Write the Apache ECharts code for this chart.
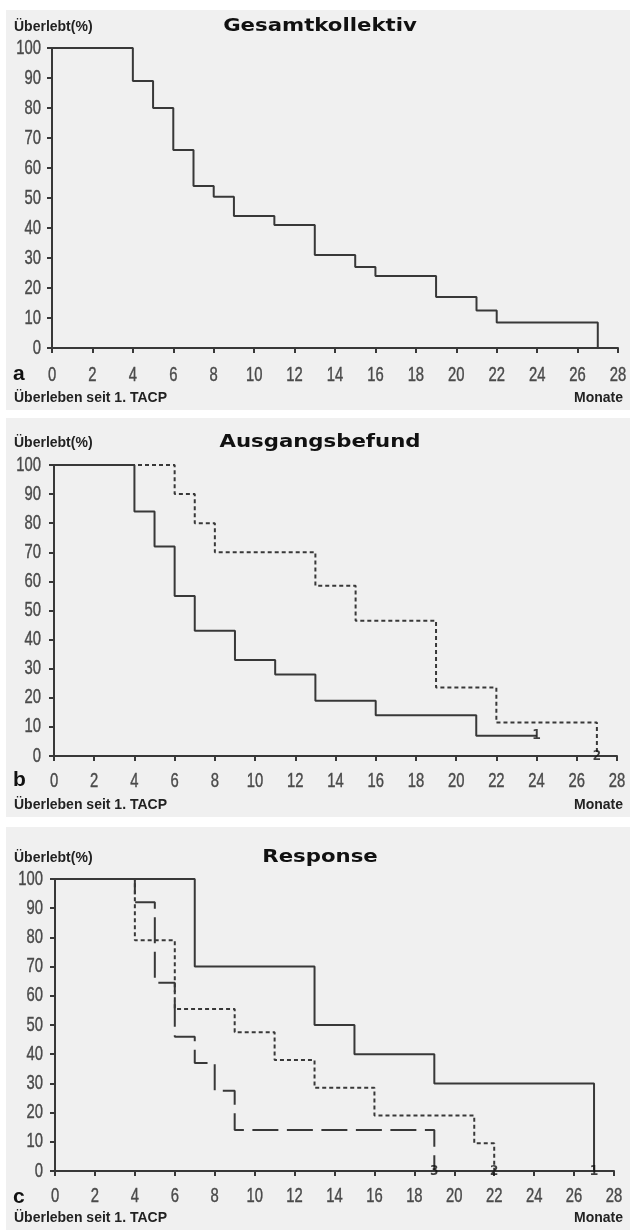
<!DOCTYPE html>
<html>
<head>
<meta charset="utf-8">
<script src="https://cdn.jsdelivr.net/npm/echarts@6/dist/echarts.min.js"></script>
<style>html,body{margin:0;padding:0;background:#fff}#c{width:630px;height:1230px}</style>
</head>
<body>
<div id="c"></div>
<script>
// ---- data ----
const titles = ['Gesamtkollektiv', 'Ausgangsbefund', 'Response'];
const panelLetters = ['a', 'b', 'c'];
const yAxisTitle = 'Überlebt(%)';
const xAxisTitle = 'Überleben seit 1. TACP';
const xUnit = 'Monate';
const xTicks = [0, 2, 4, 6, 8, 10, 12, 14, 16, 18, 20, 22, 24, 26, 28];
const yTicks = [0, 10, 20, 30, 40, 50, 60, 70, 80, 90, 100];

// panel a
const aTimes = [0, 4, 5, 6, 7, 8, 9, 11, 13, 15, 16, 19, 21, 22, 27];
const aValues = [100, 89, 80, 66, 54, 50.4, 44, 41, 31, 27, 24, 17, 12.5, 8.5, 0];

// panel b
const b1Times = [0, 4, 5, 6, 7, 9, 11, 13, 16, 21, 24];
const b1Values = [100, 84, 72, 55, 43, 33, 28, 19, 14, 7, 7];
const b2Times = [0, 6, 7, 8, 13, 15, 19, 22, 27];
const b2Values = [100, 90, 80, 70, 58.5, 46.5, 23.5, 11.5, 0];
const bEndLabels = [[24, 7, '1'], [27, 0, '2']];

// panel c
const c1Times = [0, 7, 13, 15, 19, 27];
const c1Values = [100, 70, 50, 40, 30, 0];
const c2Times = [0, 4, 6, 9, 11, 13, 16, 21, 22];
const c2Values = [100, 79, 55.5, 47.5, 38, 28.5, 19, 9.5, 0];
const c3Times = [0, 4, 5, 6, 7, 8, 9, 19];
const c3Values = [100, 92, 64.5, 46, 37, 27.5, 14, 0];
const cEndLabels = [[19, 0, '3'], [22, 0, '2'], [27, 0, '1']];

// ---- layout / style ----
const pair = (t, v) => t.map((x, i) => [x, v[i]]);
const LINE = '#383838';
const grids = [
  {left: 52, top: 48, width: 566, height: 300, yOff: 4, xOff: 7},
  {left: 54, top: 465, width: 563, height: 291, yOff: 6, xOff: 5},
  {left: 55, top: 879, width: 559, height: 292, yOff: 5, xOff: 5}
];
const panelText = [
  {bgTop: 10, bgBot: 410, titleY: 27, letterY: 374, bottomY: 398},
  {bgTop: 418, bgBot: 817, titleY: 443, letterY: 780, bottomY: 805},
  {bgTop: 827, bgBot: 1230, titleY: 858, letterY: 1197, bottomY: 1218}
];

const chart = echarts.init(document.getElementById('c'), null, {renderer: 'canvas'});

const xAxes = grids.map((g, i) => ({
  type: 'value', gridIndex: i, min: 0, max: 28, interval: 2, offset: g.xOff,
  axisLine: {show: true, lineStyle: {color: LINE, width: 2}},
  axisTick: {show: true, length: 5, lineStyle: {color: LINE, width: 2}},
  axisLabel: {show: false},
  splitLine: {show: false}
}));
const yAxes = grids.map((g, i) => ({
  type: 'value', gridIndex: i, min: 0, max: 100, interval: 10, offset: g.yOff,
  axisLine: {show: true, lineStyle: {color: LINE, width: 2}},
  axisTick: {show: true, length: 5, lineStyle: {color: LINE, width: 2}},
  axisLabel: {show: false},
  splitLine: {show: false}
}));

function stepSeries(idx, data, type) {
  return {
    type: 'line', xAxisIndex: idx, yAxisIndex: idx, step: 'end', data: data,
    symbol: 'none', silent: true,
    lineStyle: {color: LINE, width: 2, type: type}
  };
}
function labelSeries(idx, data) {
  return {
    type: 'scatter', xAxisIndex: idx, yAxisIndex: idx, data: data,
    symbolSize: 2, itemStyle: {color: 'rgba(0,0,0,0)'}, silent: true, z: 5,
    label: {show: true, position: 'inside', formatter: p => p.value[2],
      color: '#111', fontFamily: '"DejaVu Sans Mono","Liberation Mono",monospace',
      fontWeight: 'bold', fontSize: 14}
  };
}

const series = [
  stepSeries(0, pair(aTimes, aValues), 'solid'),
  stepSeries(1, pair(b2Times, b2Values), [4, 3]),
  stepSeries(1, pair(b1Times, b1Values), 'solid'),
  labelSeries(1, bEndLabels),
  stepSeries(2, pair(c3Times, c3Values), [26, 8.5]),
  stepSeries(2, pair(c2Times, c2Values), [4, 3]),
  stepSeries(2, pair(c1Times, c1Values), 'solid'),
  labelSeries(2, cEndLabels)
];

const graphic = [];
panelText.forEach((p, i) => {
  graphic.push({type: 'rect', left: 6, top: p.bgTop, z: -10,
    shape: {width: 624, height: p.bgBot - p.bgTop}, style: {fill: '#f0f0f0'}});
  graphic.push({type: 'text', x: 320, y: p.titleY, scaleX: 1.25, z: 10,
    style: {x: 0, y: 0, text: titles[i], fill: '#111', font: 'bold 17px "DejaVu Sans",sans-serif',
      textAlign: 'center', textVerticalAlign: 'middle'}});
  graphic.push({type: 'text', x: 14, y: p.titleY, z: 10,
    style: {text: yAxisTitle, fill: '#222', font: 'bold 14px "Liberation Sans",sans-serif',
      textAlign: 'left', textVerticalAlign: 'middle'}});
  graphic.push({type: 'text', x: 13, y: p.letterY, z: 10,
    style: {text: panelLetters[i], fill: '#111', font: 'bold 21px "Liberation Sans",sans-serif',
      textAlign: 'left', textVerticalAlign: 'middle'}});
  graphic.push({type: 'text', x: 14, y: p.bottomY, z: 10,
    style: {text: xAxisTitle, fill: '#222', font: 'bold 14px "Liberation Sans",sans-serif',
      textAlign: 'left', textVerticalAlign: 'middle'}});
  graphic.push({type: 'text', x: 623, y: p.bottomY, z: 10,
    style: {text: xUnit, fill: '#222', font: 'bold 14px "Liberation Sans",sans-serif',
      textAlign: 'right', textVerticalAlign: 'middle'}});
});

chart.setOption({
  animation: false,
  backgroundColor: '#ffffff',
  grid: grids.map(g => ({left: g.left, top: g.top, width: g.width, height: g.height, containLabel: false})),
  xAxis: xAxes,
  yAxis: yAxes,
  series: series,
  graphic: graphic
});

// condensed tick labels placed through the axes' own scales
const TICK_FONT = '20px "Liberation Sans",Arial,sans-serif';
const tickStyle = (t, align) => ({x: 0, y: 0, text: String(t), fill: '#4a4a4a', font: TICK_FONT,
  stroke: '#4a4a4a', lineWidth: 0.4, textAlign: align, textVerticalAlign: 'middle'});
const tickLabels = [];
grids.forEach((g, i) => {
  xTicks.forEach(t => {
    const p = chart.convertToPixel({gridIndex: i}, [t, 0]);
    tickLabels.push({type: 'text', x: p[0], y: p[1] + g.xOff + 20, scaleX: 0.74, z: 10,
      style: tickStyle(t, 'center')});
  });
  yTicks.forEach(t => {
    const p = chart.convertToPixel({gridIndex: i}, [0, t]);
    tickLabels.push({type: 'text', x: p[0] - g.yOff - 7, y: p[1], scaleX: 0.74, z: 10,
      style: tickStyle(t, 'right')});
  });
});
chart.setOption({graphic: graphic.concat(tickLabels)}, {replaceMerge: ['graphic']});
</script>
</body>
</html>
